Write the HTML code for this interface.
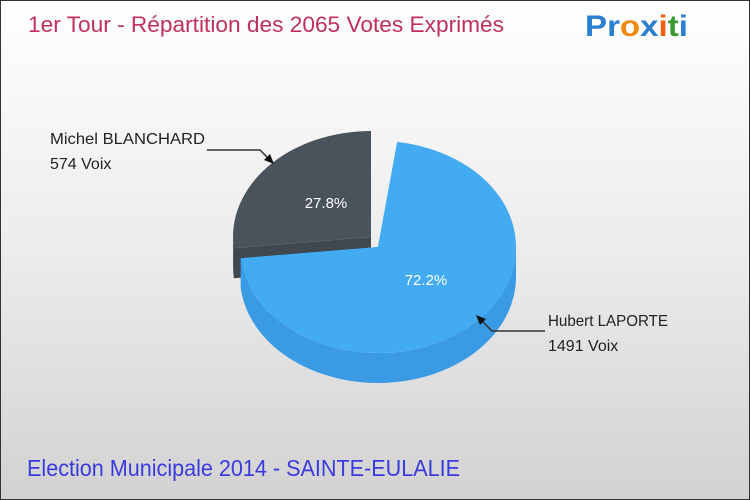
<!DOCTYPE html>
<html><head><meta charset="utf-8"><style>
body{margin:0;width:750px;height:500px;overflow:hidden;font-family:"Liberation Sans",sans-serif}
#wrap{position:absolute;left:0;top:0;width:748px;height:498px;border:1px solid #333;background:linear-gradient(#ffffff 0%,#ececec 50%,#d2d2d2 100%)}
</style></head><body>
<div id="wrap">
<svg width="750" height="500" style="position:absolute;left:-1px;top:-1px">
<text x="28" y="32" font-size="22" fill="#c0305a" textLength="476" lengthAdjust="spacingAndGlyphs">1er Tour - Répartition des 2065 Votes Exprimés</text>
<g font-size="30" font-weight="bold" font-family="Liberation Sans, sans-serif">
<text x="585" y="36" textLength="103" lengthAdjust="spacingAndGlyphs"><tspan fill="#2a7fd0">Pr</tspan><tspan fill="#f08a10">o</tspan><tspan fill="#2a7fd0">x</tspan><tspan fill="#f06010">i</tspan><tspan fill="#3a9a30">t</tspan><tspan fill="#2a7fd0">i</tspan></text></g>
<g id="slices"></g>
<g id="labels" font-size="16" fill="#222"></g>
<text x="27" y="476" font-size="23" fill="#3a3ae0" textLength="433" lengthAdjust="spacingAndGlyphs">Election Municipale 2014 - SAINTE-EULALIE</text>
</svg>
</div>
<script>
const names=["Michel BLANCHARD","Hubert LAPORTE"];
const votes=[574,1491];
const pctLabels=["27.8%","72.2%"];
const ns="http://www.w3.org/2000/svg";
const total=votes.reduce((a,b)=>a+b,0);
const rx=138,ry=106,depth=30;
const startBlue=-82;
const spans=votes.map(v=>v/total*360);
const angles=[[startBlue+spans[1]-4,startBlue+spans[1]+spans[0]-8],[startBlue,startBlue+spans[1]-4]];
const centers=[[371,237],[378,247]];
const labelPos=[[326,208],[426,285]];
const topCol=["#4a535c","#42abf2"],sideCol=["#3c444b","#3a9be4"],cutCol=["#40484f","#3a9be4"];
const g=document.getElementById('slices');
function pt(c,a,dy){const r=a*Math.PI/180;return [c[0]+rx*Math.cos(r),c[1]+ry*Math.sin(r)+(dy||0)];}
function add(d,fill,name){const p=document.createElementNS(ns,'path');p.setAttribute('d',d);p.setAttribute('fill',fill);


g.appendChild(p);}
[0,1].forEach(i=>{
 const c=centers[i],[a1,a2]=angles[i];
 [a1,a2].forEach(a=>{const p=pt(c,a);add(`M${c[0]},${c[1]}L${p[0]},${p[1]}L${p[0]},${p[1]+depth}L${c[0]},${c[1]+depth}Z`,cutCol[i],'slice-cut-face');});
 for(let k=-1;k<=1;k++){const lo=Math.max(a1,k*360),hi=Math.min(a2,k*360+180);
  if(hi>lo){const p=pt(c,lo),q=pt(c,hi);
   add(`M${p[0]},${p[1]}A${rx},${ry} 0 0 1 ${q[0]},${q[1]}L${q[0]},${q[1]+depth}A${rx},${ry} 0 0 0 ${p[0]},${p[1]+depth}Z`,sideCol[i],'slice-side');}}
 const p=pt(c,a1),q=pt(c,a2);const large=(a2-a1)>180?1:0;
 add(`M${c[0]},${c[1]}L${p[0]},${p[1]}A${rx},${ry} 0 ${large} 1 ${q[0]},${q[1]}Z`,topCol[i],i==0?'slice-blanchard':'slice-laporte');
 const t=document.createElementNS(ns,'text');t.setAttribute('x',labelPos[i][0]);t.setAttribute('y',labelPos[i][1]);t.setAttribute('fill','#fff');t.setAttribute('font-size','15');t.setAttribute('text-anchor','middle');t.textContent=pctLabels[i];
 
 
 g.appendChild(t);
});
const L=document.getElementById('labels');
L.innerHTML=`<g><text x="50" y="144" textLength="155" lengthAdjust="spacingAndGlyphs">${names[0]}</text><text x="50" y="169">${votes[0]} Voix</text>
<path d="M207,150H260L272,162" stroke="#333" stroke-width="1.5" fill="none"/><path d="M274,164L264,160L270,154Z" fill="#111"/></g>
<g><text x="548" y="326" textLength="120" lengthAdjust="spacingAndGlyphs">${names[1]}</text><text x="548" y="351">${votes[1]} Voix</text>
<path d="M545,331H492L479,318" stroke="#333" stroke-width="1.5" fill="none"/><path d="M476,315L480,325L486,319Z" fill="#111"/></g>`;
</script>
</body></html>
